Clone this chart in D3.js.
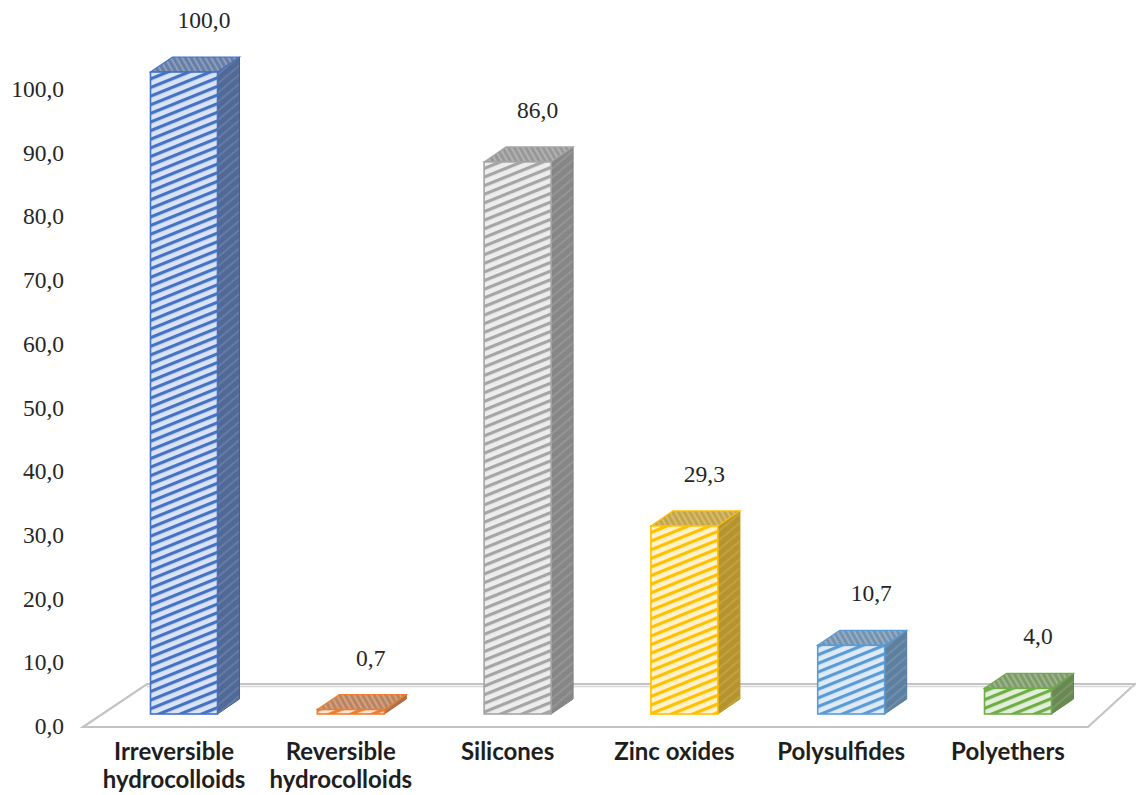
<!DOCTYPE html>
<html>
<head>
<meta charset="utf-8">
<script src="https://cdn.jsdelivr.net/npm/d3@7"></script>
<style>
  body { margin: 0; background: #fff; }
  svg { display: block; }
</style>
</head>
<body>
<svg id="chart" width="1136" height="795"></svg>
<script>
// ---- data ----
const categories = ["Irreversible\nhydrocolloids", "Reversible\nhydrocolloids", "Silicones", "Zinc oxides", "Polysulfides", "Polyethers"];
const values = [100.0, 0.7, 86.0, 29.3, 10.7, 4.0];
const colors = ["#4472C4", "#ED7D31", "#A5A5A5", "#FFC000", "#5B9BD5", "#70AD47"];
const axisTicks = [0, 10, 20, 30, 40, 50, 60, 70, 80, 90, 100];

// ---- layout ----
const barW = 67;                  // front face width
const depthX = 22, depthY = -15;  // oblique depth of each column
const svg = d3.select("#chart");

// decimal comma formatting
const fmt = d3.formatLocale({ decimal: ",", thousands: ".", grouping: [3], currency: ["", ""] }).format(".1f");

const x = d3.scalePoint().domain(categories).range([184, 1018]);
const yBar = d3.scaleLinear().domain([0, 100]).range([714, 72]);
const yAxisScale = d3.scaleLinear().domain([0, 100]).range([726, 89]);

// ---- patterns ----
const defs = svg.append("defs");
function stripePattern(id, bg, fg, size, stripe, angle) {
  const p = defs.append("pattern")
    .attr("id", id)
    .attr("patternUnits", "userSpaceOnUse")
    .attr("width", size).attr("height", size)
    .attr("patternTransform", `rotate(${angle})`);
  p.append("rect").attr("width", size).attr("height", size).attr("fill", bg);
  p.append("rect").attr("y", 0).attr("width", size).attr("height", stripe).attr("fill", fg);
}
colors.forEach((c, i) => {
  const light = d3.interpolateRgb(c, "#ffffff")(0.8);
  const side = d3.interpolateRgb(c, "#5f5f5f")(0.45);
  const sideLight = d3.interpolateRgb(side, "#ffffff")(0.12);
  const top = d3.interpolateRgb(c, "#8a8a8a")(0.5);
  const topLight = d3.interpolateRgb(top, "#ffffff")(0.25);
  stripePattern(`front-${i}`, light, c, 8, 3.2, -22);
  stripePattern(`side-${i}`, side, sideLight, 7, 2, -40);
  stripePattern(`top-${i}`, top, topLight, 5, 2, 60);
});

// ---- floor ----
const floorFront = yBar(0) + 13, floorBack = yBar(0) - 30;
const floorPts = [[83, floorFront], [1088, floorFront], [1135, floorBack], [147, floorBack]];
svg.append("polygon")
  .attr("points", floorPts.map(p => p.join(",")).join(" "))
  .attr("fill", "#ffffff")
  .attr("stroke", "#c3c3c3")
  .attr("stroke-width", 2.2)
  .attr("stroke-linejoin", "miter");
svg.append("line")
  .attr("x1", 147).attr("x2", 1135)
  .attr("y1", floorBack + 2.5).attr("y2", floorBack + 2.5)
  .attr("stroke", "#d6d6d6").attr("stroke-width", 1.5);

// ---- y axis labels ----
const yAxis = d3.axisLeft(yAxisScale)
  .tickValues(axisTicks)
  .tickFormat(fmt)
  .tickSize(0)
  .tickPadding(0);
const gy = svg.append("g").attr("transform", "translate(64,0)").call(yAxis);
gy.select(".domain").remove();
gy.selectAll("text")
  .attr("font-family", "'Liberation Serif', 'Times New Roman', serif")
  .attr("font-size", 23.5)
  .attr("fill", "#262626");

// ---- columns ----
const bars = svg.append("g").selectAll("g.bar")
  .data(categories.map((c, i) => ({ c, v: values[i], i })))
  .join("g").attr("class", "bar");

bars.each(function (d) {
  const g = d3.select(this);
  const x0 = x(d.c) - barW / 2, x1 = x0 + barW;
  const yb = yBar(0), yt = yBar(d.v);
  const edge = d3.interpolateRgb(colors[d.i], "#404040")(0.35);
  // side face
  g.append("polygon")
    .attr("points", [[x1, yb], [x1 + depthX, yb + depthY], [x1 + depthX, yt + depthY], [x1, yt]].map(p => p.join(",")).join(" "))
    .attr("fill", `url(#side-${d.i})`)
    .attr("stroke", edge).attr("stroke-width", 1);
  // top face
  g.append("polygon")
    .attr("points", [[x0, yt], [x0 + depthX, yt + depthY], [x1 + depthX, yt + depthY], [x1, yt]].map(p => p.join(",")).join(" "))
    .attr("fill", `url(#top-${d.i})`)
    .attr("stroke", colors[d.i]).attr("stroke-width", 1.2);
  // front face
  g.append("rect")
    .attr("x", x0).attr("y", yt)
    .attr("width", barW).attr("height", Math.max(0, yb - yt))
    .attr("fill", `url(#front-${d.i})`)
    .attr("stroke", colors[d.i]).attr("stroke-width", 1.6);
});

// ---- value labels ----
svg.append("g").selectAll("text")
  .data(values)
  .join("text")
  .attr("x", (v, i) => x(categories[i]) + 20)
  .attr("y", v => yBar(v) - 44)
  .attr("text-anchor", "middle")
  .attr("font-family", "'Liberation Serif', 'Times New Roman', serif")
  .attr("font-size", 23.5)
  .attr("fill", "#262626")
  .text(v => fmt(v));

// ---- category labels ----
const xl = svg.append("g").selectAll("text")
  .data(categories)
  .join("text")
  .attr("x", c => x(c) - 10)
  .attr("y", 760)
  .attr("text-anchor", "middle")
  .attr("font-family", "Lato, 'Open Sans', sans-serif")
  .attr("font-weight", "bold")
  .attr("font-size", 24)
  .attr("fill", "#1e1e1e");
xl.each(function (c) {
  const t = d3.select(this);
  c.split("\n").forEach((line, k) => {
    t.append("tspan").attr("x", x(c) - 10).attr("dy", k === 0 ? 0 : 28).text(line);
  });
});
</script>
</body>
</html>
